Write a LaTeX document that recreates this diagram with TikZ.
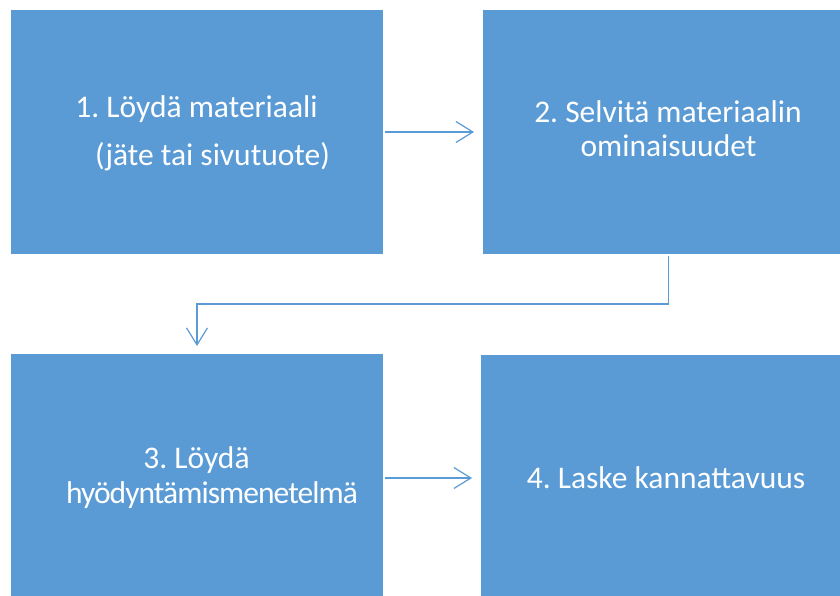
\documentclass[tikz,border=0pt]{standalone}
\usepackage{fontspec}
\setmainfont{Carlito}
\usetikzlibrary{arrows.meta}
\definecolor{boxblue}{HTML}{5B9BD5}
\definecolor{linkblue}{HTML}{5B9BD5}
\tikzset{
  stepbox/.style={rectangle, fill=boxblue, draw=none, minimum width=372bp, minimum height=244bp, inner sep=0pt, anchor=north west},
  steptext/.style={text=white, anchor=base, inner sep=0pt, font=\fontsize{31.5bp}{36bp}\selectfont\frenchspacing},
  link/.style={draw=linkblue, line width=1.2bp, -{Straight Barb[length=17bp,width=21bp,line width=1.2bp]}}
}
\begin{document}
\begin{tikzpicture}[x=1bp,y=-1bp]
  \useasboundingbox (0,0) rectangle (840,596);
  % boxes
  \node[stepbox] (b1) at (11,10) {};
  \node[stepbox] (b2) at (483,10) {};
  \node[stepbox] (b3) at (11,354) {};
  \node[stepbox] (b4) at (481,355) {};
  % labels
  \node[steptext] (t1a) at (196.5,118) {1. Löydä materiaali};
  \node[steptext] (t1b) at (212.5,166) {(jäte tai sivutuote)};
  \node[steptext] (t2a) at (668,123) {2. Selvitä materiaalin};
  \node[steptext] (t2b) at (668.5,157) {ominaisuudet};
  \node[steptext] (t3a) at (196.5,468) {3. Löydä};
  \node[steptext] (t3b) at (212,503) {\addfontfeature{LetterSpace=-3}hyödyntämismenetelmä};
  \node[steptext] (t4) at (666,488) {4. Laske kannattavuus};
  % connectors
  \coordinate (a1s) at (385,132);
  \coordinate (a1e) at (474,132);
  \coordinate (a2s) at (668.5,256);
  \coordinate (a2e) at (197,346);
  \coordinate (a3s) at (385,478);
  \coordinate (a3e) at (472,478);
  \draw[link] (a1s) -- (a1e);
  \draw[link] (a2s) -- (668.5,304) -- (197,304) -- (a2e);
  \draw[link] (a3s) -- (a3e);
\end{tikzpicture}
\end{document}
